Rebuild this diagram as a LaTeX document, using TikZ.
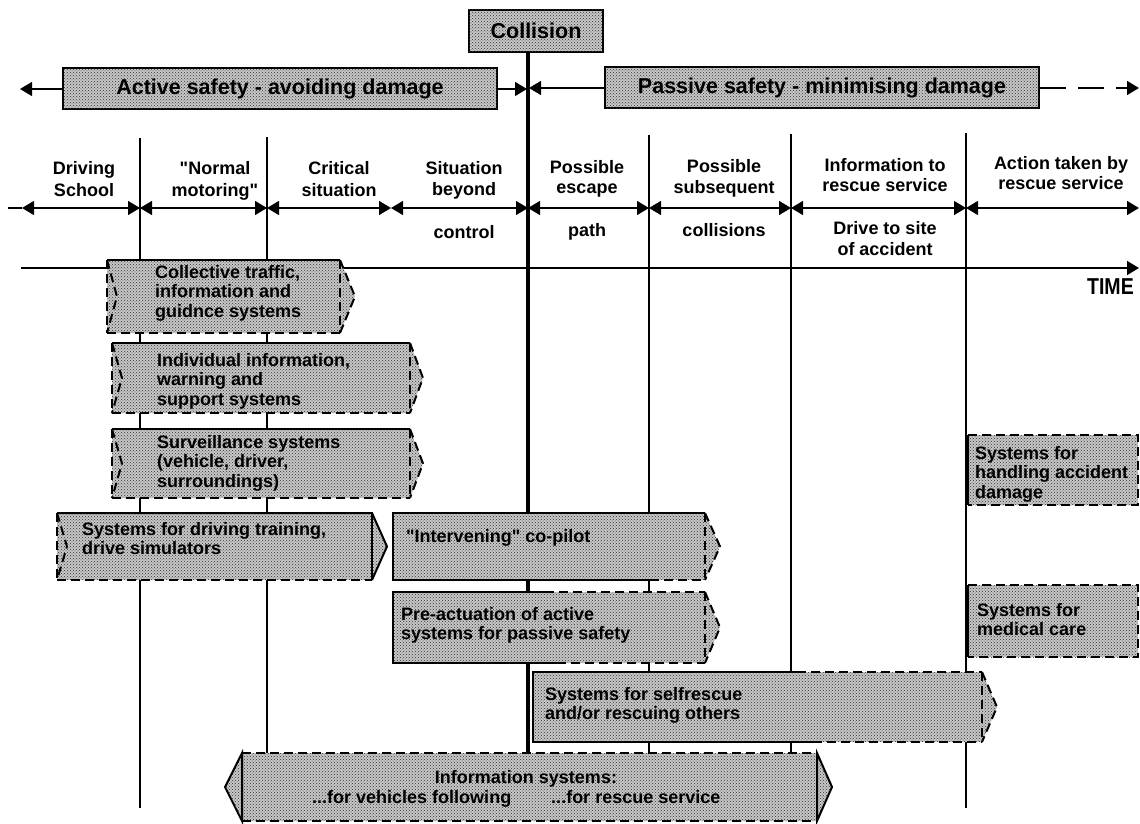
\documentclass[tikz,border=0pt]{standalone}
\usepackage{fontspec}
\setmainfont{Liberation Sans}[Ligatures=TeXOff]
\usetikzlibrary{arrows.meta,patterns}

% stippled fill of a box whose right end is a point: left, right, tip, top, bottom
\newcommand\stipfill[5]{%
  \fill[stipple] (#1,#4) -- (#2,#4) -- (#3,{(#4+#5)/2}) -- (#2,#5) -- (#1,#5) -- cycle;}
% open (dashed, notched) left end: x, top, bottom
\newcommand\openendL[3]{%
  \draw[boxdash] (#1,#2) -- (#1,#3);
  \draw[boxdash] (#1,#2) -- (#1+10,{(#2+#3)/2}) -- (#1,#3);}
% open (dashed) right end: right, tip, top, bottom
\newcommand\openendR[4]{%
  \draw[boxdash] (#1,#3) -- (#1,#4);
  \draw[boxdash] (#1,#3) -- (#2,{(#3+#4)/2}) -- (#1,#4);}

\begin{document}
\begin{tikzpicture}[x=1pt,y=-1pt,
  >={Triangle[length=12pt,width=14pt]},
  vline/.style={line width=1.5pt},
  collline/.style={line width=3.5pt},
  boxedge/.style={line width=2pt},
  boxdash/.style={line width=2pt, dash pattern=on 9pt off 5pt},
  stipple/.style={fill=black!22, postaction={pattern=crosshatch dots, pattern color=black!80}},
  hdrbox/.style={draw, line width=2pt, stipple, inner sep=0pt,
    font=\fontsize{21.5}{24}\selectfont\bfseries},
  periodtxt/.style={anchor=base, inner sep=0pt, font=\fontsize{18}{20}\selectfont\bfseries},
  boxtxt/.style={anchor=north west, inner sep=0pt, align=left,
    font=\fontsize{18}{19.5}\selectfont\bfseries},
]
\useasboundingbox (0,0) rectangle (1140,824);

% ---- time dividers (drawn first, boxes sit on top) ----
\coordinate (v1a) at (140,138); \coordinate (v1b) at (140,808);
\coordinate (v2a) at (267,137); \coordinate (v2b) at (267,756);
\coordinate (v5a) at (649,135); \coordinate (v5b) at (649,756);
\coordinate (v6a) at (791,134); \coordinate (v6b) at (791,756);
\coordinate (v7a) at (966,133); \coordinate (v7b) at (966,808);
\draw[vline] (v1a) -- (v1b);
\draw[vline] (v2a) -- (v2b);
\draw[vline] (v5a) -- (v5b);
\draw[vline] (v6a) -- (v6b);
\draw[vline] (v7a) -- (v7b);

% ---- collision marker ----
\node[hdrbox, minimum width=134pt, minimum height=42pt] (coll) at (536,31) {Collision};
\coordinate (c1) at (528,52); \coordinate (c2) at (528,756);
\draw[collline] (c1) -- (c2);

% ---- active / passive safety ----
\node[hdrbox, minimum width=434pt, minimum height=41pt] (active) at (280,89) {Active safety - avoiding damage};
\node[hdrbox, minimum width=434pt, minimum height=41pt] (passive) at (822,88) {Passive safety - minimising damage};
\coordinate (actL) at (20,89);
\coordinate (actR) at (527,89);
\coordinate (pasL) at (529,88);
\coordinate (pasR) at (1139,88);
\draw[vline,->] (active.west) -- (actL);
\draw[vline,->] (active.east) -- (actR);
\draw[vline,->] (passive.west) -- (pasL);
\draw[vline,->,dash pattern=on 26pt off 12pt] (passive.east) -- (pasR);

% ---- phase arrows ----
\coordinate (p0) at (8,208);
\coordinate (p1) at (22,208);
\coordinate (q1) at (140,208);
\coordinate (q2) at (267,208);
\coordinate (q3) at (391,208);
\coordinate (q4) at (528,208);
\coordinate (q5) at (649,208);
\coordinate (q6) at (791,208);
\coordinate (q7) at (966,208);
\coordinate (q8) at (1139,208);
\draw[vline] (p0) -- (p1);
\draw[vline,<->] (p1) -- (q1);
\draw[vline,<->] (q1) -- (q2);
\draw[vline,<->] (q2) -- (q3);
\draw[vline,<->] (q3) -- (q4);
\draw[vline,<->] (q4) -- (q5);
\draw[vline,<->] (q5) -- (q6);
\draw[vline,<->] (q6) -- (q7);
\draw[vline,<->] (q7) -- (q8);

% ---- phase labels ----
\node[periodtxt] (ph1a) at (84,175) {Driving};
\node[periodtxt] (ph1b) at (84,196) {School};
\node[periodtxt] (ph2a) at (215,175) {"Normal};
\node[periodtxt] (ph2b) at (215,196) {motoring"};
\node[periodtxt] (ph3a) at (339,175) {Critical};
\node[periodtxt] (ph3b) at (339,196) {situation};
\node[periodtxt] (ph4a) at (464,174.5) {Situation};
\node[periodtxt] (ph4b) at (464,195) {beyond};
\node[periodtxt] (ph4c) at (464,238) {control};
\node[periodtxt] (ph5a) at (587,173) {Possible};
\node[periodtxt] (ph5b) at (587,193.5) {escape};
\node[periodtxt] (ph5c) at (587,236.5) {path};
\node[periodtxt] (ph6a) at (724,172.7) {Possible};
\node[periodtxt] (ph6b) at (724,193) {subsequent};
\node[periodtxt] (ph6c) at (724,236.4) {collisions};
\node[periodtxt] (ph7a) at (885,171) {Information to};
\node[periodtxt] (ph7b) at (885,191) {rescue service};
\node[periodtxt] (ph7c) at (885,234.5) {Drive to site};
\node[periodtxt] (ph7d) at (885,255.5) {of accident};
\node[periodtxt] (ph8a) at (1061,169.5) {Action taken by};
\node[periodtxt] (ph8b) at (1061,189.5) {rescue service};

% ---- time axis ----
\coordinate (t0) at (21,268);
\coordinate (t1) at (1139,268);
\draw[vline,->] (t0) -- (t1);
\node[anchor=base east, inner sep=0pt, font=\fontsize{23}{25}\selectfont\bfseries]
  (time) at (1134,294) {\scalebox{0.85}[1]{TIME}};

% ---- collective traffic systems ----
\stipfill{107}{340}{355}{260}{333}
\draw[boxedge] (107,260) -- (340,260);
\draw[boxdash] (107,333) -- (340,333);
\openendL{107}{260}{333}
\openendR{340}{355}{260}{333}
\node[boxtxt] (collective) at (155,265) {Collective traffic,\\information and\\guidnce systems};

% ---- individual systems ----
\stipfill{112}{410}{423}{343}{413}
\draw[boxedge] (112,343) -- (410,343);
\draw[boxdash] (112,413) -- (410,413);
\openendL{112}{343}{413}
\openendR{410}{423}{343}{413}
\node[boxtxt] (individual) at (157,353) {Individual information,\\warning and\\support systems};

% ---- surveillance systems ----
\stipfill{112}{410}{423}{429}{498}
\draw[boxedge] (112,429) -- (410,429);
\draw[boxdash] (112,498) -- (410,498);
\openendL{112}{429}{498}
\openendR{410}{423}{429}{498}
\node[boxtxt] (surveil) at (157,435) {Surveillance systems\\(vehicle, driver,\\surroundings)};

% ---- driving training ----
\stipfill{57}{372}{387}{513}{580}
\draw[boxedge] (57,513) -- (372,513) -- (387,546.5) -- (372,580);
\draw[boxedge] (372,513) -- (372,580);
\draw[boxdash] (57,580) -- (372,580);
\openendL{57}{513}{580}
\node[boxtxt] (training) at (82,522) {Systems for driving training,\\drive simulators};

% ---- intervening co-pilot ----
\stipfill{393}{705}{720}{513}{580}
\draw[boxedge] (650,580) -- (393,580) -- (393,513) -- (705,513);
\draw[boxdash] (650,580) -- (705,580);
\openendR{705}{720}{513}{580}
\node[boxtxt] (copilot) at (406,529) {"Intervening" co-pilot};

% ---- pre-actuation ----
\stipfill{393}{705}{720}{592}{663}
\draw[boxedge] (557,663) -- (393,663) -- (393,592) -- (545,592);
\draw[boxdash] (545,592) -- (705,592);
\draw[boxdash] (557,663) -- (705,663);
\openendR{705}{720}{592}{663}
\node[boxtxt] (preact) at (401,607) {Pre-actuation of active\\systems for passive safety};

% ---- self-rescue ----
\stipfill{533}{982}{997}{672}{742}
\draw[boxedge] (813,742) -- (533,742) -- (533,672) -- (797,672);
\draw[boxdash] (797,672) -- (982,672);
\draw[boxdash] (813,742) -- (982,742);
\openendR{982}{997}{672}{742}
\node[boxtxt] (selfrescue) at (545,687) {Systems for selfrescue\\and/or rescuing others};

% ---- accident damage ----
\fill[stipple] (968,435) rectangle (1138,505);
\draw[boxedge] (968,435) -- (968,505);
\draw[boxdash] (968,435) -- (1138,435) -- (1138,505) -- (968,505);
\node[boxtxt] (damage) at (975,446) {Systems for\\handling accident\\damage};

% ---- medical care ----
\fill[stipple] (968,585) rectangle (1138,657);
\draw[boxedge] (968,585) -- (968,657);
\draw[boxdash] (968,585) -- (1138,585) -- (1138,657) -- (968,657);
\node[boxtxt] (medical) at (977,603) {Systems for\\medical care};

% ---- information systems ----
\fill[stipple] (225,787) -- (242,753) -- (817,753) -- (832,787) -- (817,821) -- (242,821) -- cycle;
\draw[boxedge] (242,753) -- (225,787) -- (242,821) -- cycle;
\draw[boxedge] (817,753) -- (832,787) -- (817,821) -- cycle;
\draw[boxdash] (242,753) -- (817,753);
\draw[boxdash] (242,821) -- (817,821);
\node[boxtxt, anchor=base] (info1) at (526,783) {Information systems:};
\node[boxtxt, anchor=base west] (info2) at (312,803) {...for vehicles following\hspace{40pt}...for rescue service};

\end{tikzpicture}
\end{document}
